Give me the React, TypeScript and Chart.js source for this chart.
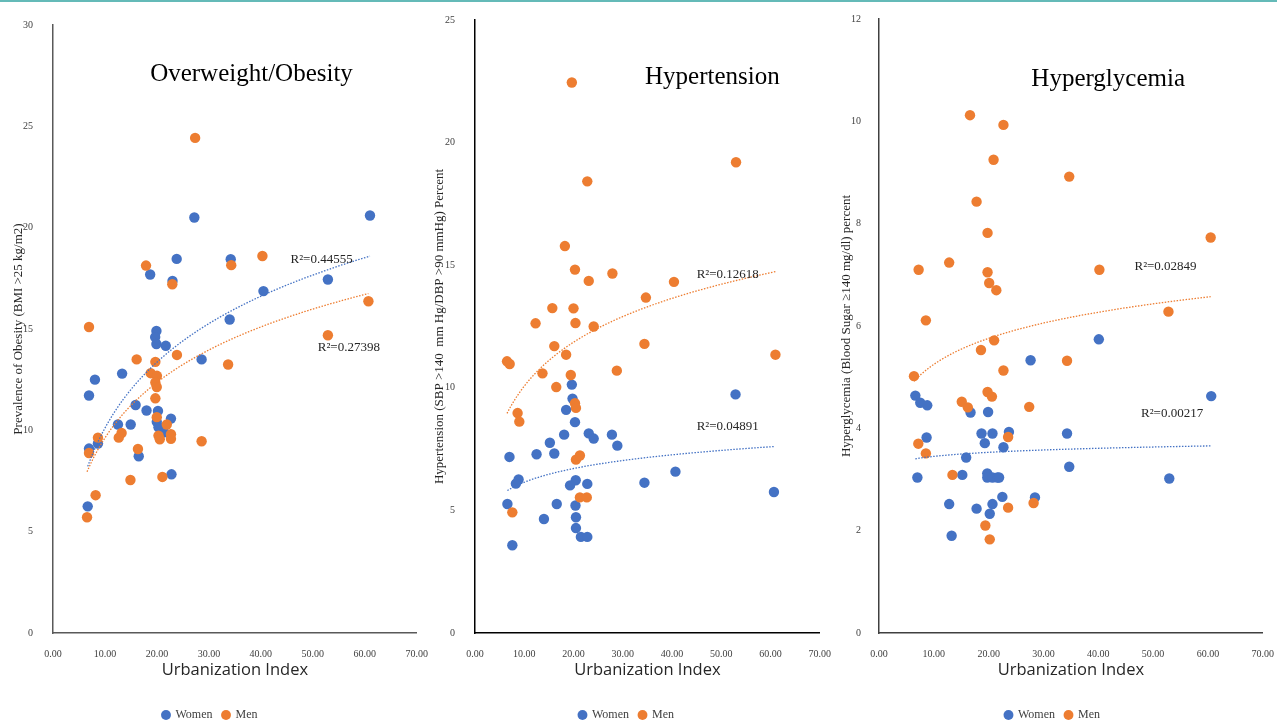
import React, { useEffect, useRef } from 'react';
import { Chart, registerables } from 'chart.js';

Chart.register(...registerables);

// ---------- shared labels ----------
const SERIES_LABELS = ['Women', 'Men'];
const X_TITLE = 'Urbanization Index';
const X_MIN = 0;
const X_MAX = 70;
const X_STEP = 10;

// ---------- Panel 1: Overweight / Obesity ----------
const obesityWomenX = [27.2, 61.0, 23.8, 34.2, 18.7, 23.0, 52.9, 40.5, 19.9, 19.66, 19.9, 21.7, 34.0, 28.6, 13.3, 8.07, 6.93, 15.9, 18.0, 20.2, 22.7, 19.97, 12.5, 14.95, 20.3, 21.4, 8.65, 6.93, 16.5, 22.8, 6.68];
const obesityWomenY = [20.5, 20.6, 18.46, 18.44, 17.69, 17.37, 17.44, 16.87, 14.9, 14.6, 14.26, 14.17, 15.47, 13.5, 12.8, 12.5, 11.72, 11.25, 10.98, 10.96, 10.58, 10.42, 10.29, 10.29, 10.15, 9.9, 9.35, 9.1, 8.72, 7.83, 6.25];
const obesityMenX = [27.35, 34.3, 40.3, 17.9, 22.96, 60.7, 6.93, 52.9, 23.85, 33.7, 16.1, 19.7, 18.8, 20.0, 19.7, 19.97, 19.7, 19.97, 21.9, 13.2, 8.65, 12.65, 20.3, 20.55, 22.7, 22.7, 28.6, 6.93, 16.35, 14.9, 21.05, 8.2, 6.55];
const obesityMenY = [24.43, 18.15, 18.6, 18.13, 17.21, 16.37, 15.1, 14.69, 13.72, 13.25, 13.5, 13.38, 12.82, 12.69, 12.36, 12.14, 11.58, 10.65, 10.29, 9.87, 9.64, 9.64, 9.74, 9.56, 9.81, 9.58, 9.46, 8.88, 9.08, 7.55, 7.7, 6.8, 5.71];
const obesityR2 = ['R²=0.44555', 'R²=0.27398'];

// ---------- Panel 2: Hypertension ----------
const hyperWomenX = [19.66, 52.9, 19.8, 18.5, 20.3, 18.1, 23.1, 24.1, 27.8, 28.9, 15.2, 12.5, 16.1, 7.0, 40.7, 20.45, 8.85, 8.3, 19.3, 22.8, 34.4, 60.7, 6.58, 16.6, 20.4, 14.0, 20.5, 20.5, 21.5, 22.8, 7.58];
const hyperWomenY = [10.13, 9.73, 9.56, 9.1, 8.6, 8.09, 8.14, 7.93, 8.09, 7.64, 7.76, 7.29, 7.32, 7.18, 6.58, 6.23, 6.26, 6.09, 6.02, 6.08, 6.13, 5.75, 5.26, 5.26, 5.2, 4.65, 4.72, 4.28, 3.92, 3.92, 3.58];
const hyperMenX = [19.66, 53.0, 22.8, 18.25, 20.3, 23.1, 27.9, 40.4, 34.7, 15.7, 20.0, 12.3, 20.4, 24.1, 34.4, 16.1, 18.5, 61.0, 6.5, 7.04, 13.7, 19.45, 28.8, 16.5, 20.3, 20.5, 8.65, 9.0, 20.5, 21.3, 21.3, 22.7, 7.58];
const hyperMenY = [22.45, 19.2, 18.42, 15.78, 14.82, 14.36, 14.66, 14.32, 13.68, 13.25, 13.24, 12.63, 12.64, 12.5, 11.79, 11.7, 11.35, 11.35, 11.08, 10.97, 10.59, 10.52, 10.7, 10.03, 9.37, 9.18, 8.97, 8.62, 7.07, 7.24, 5.53, 5.53, 4.92];
const hyperR2 = ['R²=0.04891', 'R²=0.12618'];

// ---------- Panel 3: Hyperglycemia ----------
const glycWomenX = [40.1, 27.65, 6.63, 60.6, 7.53, 8.8, 16.7, 19.9, 18.7, 20.7, 23.7, 34.3, 8.68, 19.3, 22.7, 15.9, 34.7, 7.0, 15.2, 19.75, 19.75, 20.7, 21.6, 21.9, 52.95, 22.5, 28.45, 12.8, 20.7, 17.8, 20.2, 13.25];
const glycWomenY = [5.74, 5.33, 4.64, 4.63, 4.5, 4.45, 4.31, 4.32, 3.9, 3.9, 3.93, 3.9, 3.82, 3.71, 3.63, 3.43, 3.25, 3.04, 3.09, 3.12, 3.04, 3.04, 3.04, 3.04, 3.02, 2.66, 2.65, 2.52, 2.52, 2.43, 2.33, 1.9];
const glycMenX = [16.6, 22.7, 20.9, 34.7, 17.8, 19.8, 60.5, 7.23, 12.8, 19.8, 40.2, 20.1, 21.4, 8.55, 52.8, 21.0, 18.6, 34.3, 22.7, 6.38, 19.8, 20.6, 15.1, 16.2, 27.4, 23.55, 7.17, 8.55, 13.4, 28.2, 23.55, 19.4, 20.2];
const glycMenY = [10.12, 9.93, 9.25, 8.92, 8.43, 7.82, 7.73, 7.1, 7.24, 7.05, 7.1, 6.84, 6.7, 6.11, 6.28, 5.72, 5.53, 5.32, 5.13, 5.02, 4.71, 4.62, 4.52, 4.41, 4.42, 3.83, 3.7, 3.51, 3.09, 2.54, 2.45, 2.1, 1.83];
const glycR2 = ['R²=0.00217', 'R²=0.02849'];

// ---------- styling ----------
const WOMEN_COLOR = '#4472C4';
const MEN_COLOR = '#ED7D31';
const SERIF = '"Liberation Serif", "Times New Roman", serif';
const SANS = '"Open Sans", "Noto Sans", sans-serif';
const CANVAS_H = 731;
const LEGEND_H = 32;
const PLOT_BOTTOM = 633;

type Panel = {
  title: string;
  yTitle: string;
  yMax: number;
  yStep: number;
  women: [number[], number[]];
  men: [number[], number[]];
  r2: string[];
  canvasLeft: number;
  plotLeft: number;
  plotRight: number;
  plotTop: number;
  yTitlePad: number;
  yTickPad: number;
  axisColor: string;
  titlePos: [number, number];
  r2Pos: [number, number][];
};

const PANELS: Panel[] = [
  {
    title: 'Overweight/Obesity',
    yTitle: 'Prevalence of Obesity (BMI >25 kg/m2)',
    yMax: 30, yStep: 5,
    women: [obesityWomenX, obesityWomenY],
    men: [obesityMenX, obesityMenY],
    r2: obesityR2,
    canvasLeft: 0, plotLeft: 53, plotRight: 420, plotTop: 25,
    yTitlePad: 11, yTickPad: 12, axisColor: '#595959',
    titlePos: [38.2, 27.23],
    r2Pos: [[45.7, 18.25], [50.95, 13.9]],
  },
  {
    title: 'Hypertension',
    yTitle: 'Hypertension (SBP >140  mm Hg/DBP >90 mmHg) Percent',
    yMax: 25, yStep: 5,
    women: [hyperWomenX, hyperWomenY],
    men: [hyperMenX, hyperMenY],
    r2: hyperR2,
    canvasLeft: 430, plotLeft: 475, plotRight: 823, plotTop: 20,
    yTitlePad: 2, yTickPad: 12, axisColor: '#000000',
    titlePos: [48.2, 22.37],
    r2Pos: [[45.0, 8.27], [45.0, 14.49]],
  },
  {
    title: 'Hyperglycemia',
    yTitle: 'Hyperglycemia (Blood Sugar ≥140 mg/dl) percent',
    yMax: 12, yStep: 2,
    women: [glycWomenX, glycWomenY],
    men: [glycMenX, glycMenY],
    r2: glycR2,
    canvasLeft: 839, plotLeft: 879, plotRight: 1266, plotTop: 19,
    yTitlePad: 0, yTickPad: 10, axisColor: '#404040',
    titlePos: [41.8, 10.69],
    r2Pos: [[47.8, 4.22], [46.6, 7.09]],
  },
];

// logarithmic least-squares trend (y = a + b ln x), sampled between min and max x
function logTrend(xs: number[], ys: number[]) {
  const n = xs.length;
  let sl = 0, sy = 0, sll = 0, sly = 0;
  for (let i = 0; i < n; i++) {
    const l = Math.log(xs[i]);
    sl += l; sy += ys[i]; sll += l * l; sly += l * ys[i];
  }
  const b = (n * sly - sl * sy) / (n * sll - sl * sl);
  const a = (sy - b * sl) / n;
  const lo = Math.min(...xs);
  const hi = Math.max(...xs);
  const pts: { x: number; y: number }[] = [];
  const steps = 80;
  for (let i = 0; i <= steps; i++) {
    const x = lo + ((hi - lo) * i) / steps;
    pts.push({ x, y: a + b * Math.log(x) });
  }
  return pts;
}

const toPoints = (xs: number[], ys: number[]) => xs.map((x, i) => ({ x, y: ys[i] }));

const overlayPlugin = {
  id: 'overlay',
  afterDatasetsDraw(chart: any, _args: any, opts: any) {
    const { ctx } = chart;
    const xs = chart.scales.x;
    const ys = chart.scales.y;
    ctx.save();
    ctx.fillStyle = '#000000';
    ctx.font = `25px ${SERIF}`;
    ctx.textAlign = 'center';
    ctx.textBaseline = 'alphabetic';
    ctx.fillText(opts.title, xs.getPixelForValue(opts.titlePos[0]), ys.getPixelForValue(opts.titlePos[1]));
    ctx.font = `13px ${SERIF}`;
    ctx.fillStyle = '#262626';
    ctx.textAlign = 'left';
    opts.r2.forEach((t: string, i: number) => {
      ctx.fillText(t, xs.getPixelForValue(opts.r2Pos[i][0]), ys.getPixelForValue(opts.r2Pos[i][1]));
    });
    ctx.restore();
  },
};

function PanelChart({ p }: { p: Panel }) {
  const ref = useRef<HTMLCanvasElement | null>(null);
  const width = p.plotRight + 15 - p.canvasLeft;

  useEffect(() => {
    if (!ref.current) return;
    const chart = new Chart(ref.current, {
      type: 'scatter',
      data: {
        datasets: [
          {
            label: SERIES_LABELS[0],
            data: toPoints(p.women[0], p.women[1]),
            backgroundColor: WOMEN_COLOR,
            borderColor: WOMEN_COLOR,
            borderWidth: 0,
            pointRadius: 5.2,
            order: 2,
          },
          {
            label: SERIES_LABELS[1],
            data: toPoints(p.men[0], p.men[1]),
            backgroundColor: MEN_COLOR,
            borderColor: MEN_COLOR,
            borderWidth: 0,
            pointRadius: 5.2,
            order: 1,
          },
          {
            label: 'trend-women',
            data: logTrend(p.women[0], p.women[1]),
            showLine: true,
            borderColor: WOMEN_COLOR,
            borderWidth: 1.3,
            borderDash: [1.5, 1.5],
            pointRadius: 0,
            fill: false,
            order: 0,
          } as any,
          {
            label: 'trend-men',
            data: logTrend(p.men[0], p.men[1]),
            showLine: true,
            borderColor: MEN_COLOR,
            borderWidth: 1.3,
            borderDash: [1.5, 1.5],
            pointRadius: 0,
            fill: false,
            order: 0,
          } as any,
        ],
      },
      options: {
        responsive: false,
        maintainAspectRatio: false,
        animation: false,
        layout: { padding: { left: 0, right: 15, top: p.plotTop, bottom: 0 } },
        scales: {
          x: {
            type: 'linear',
            min: X_MIN,
            max: X_MAX,
            grid: { display: false },
            border: { display: true, color: p.axisColor, width: 1.5 },
            ticks: {
              stepSize: X_STEP,
              autoSkip: false,
              maxRotation: 0,
              padding: 7,
              color: '#404040',
              font: { family: SERIF, size: 10 },
              callback: (v: any) => Number(v).toFixed(2),
            },
            title: {
              display: true,
              text: X_TITLE,
              color: '#262626',
              font: { family: SANS, size: 16.5 },
              padding: { top: 0, bottom: 19 },
            },
            afterFit: (s: any) => { s.height = CANVAS_H - LEGEND_H - PLOT_BOTTOM; },
          },
          y: {
            type: 'linear',
            min: 0,
            max: p.yMax,
            grid: { display: false },
            border: { display: true, color: p.axisColor, width: 1.5 },
            ticks: {
              stepSize: p.yStep,
              padding: p.yTickPad,
              color: '#404040',
              font: { family: SERIF, size: 10 },
              callback: (v: any) => String(v),
            },
            title: {
              display: true,
              text: p.yTitle,
              color: '#262626',
              font: { family: SERIF, size: 13 },
              padding: { top: p.yTitlePad, bottom: 0 },
            },
            afterFit: (s: any) => { s.width = p.plotLeft - p.canvasLeft; },
          },
        },
        plugins: {
          legend: {
            display: true,
            position: 'bottom',
            labels: {
              usePointStyle: true,
              pointStyle: 'circle',
              boxWidth: 7,
              boxHeight: 7,
              padding: 10,
              color: '#404040',
              font: { family: SERIF, size: 12 },
              filter: (item: any) => item.datasetIndex < 2,
              sort: (a: any, b: any) => a.datasetIndex - b.datasetIndex,
            },
          },
          tooltip: { enabled: false },
          overlay: { title: p.title, titlePos: p.titlePos, r2: p.r2, r2Pos: p.r2Pos },
        } as any,
      },
      plugins: [overlayPlugin],
    });
    return () => chart.destroy();
  }, [p]);

  return (
    <canvas
      ref={ref}
      width={width}
      height={CANVAS_H}
      style={{ position: 'absolute', left: p.canvasLeft, top: 0, width, height: CANVAS_H }}
    />
  );
}

export default function App() {
  return (
    <div
      style={{
        position: 'fixed', left: 0, top: 0, width: 1277, height: 723,
        overflow: 'hidden', background: '#ffffff',
      }}
    >
      <div style={{ position: 'absolute', left: 0, top: 0, width: 1277, height: 2, background: '#64BAB8' }} />
      {PANELS.map((p) => (
        <PanelChart key={p.title} p={p} />
      ))}
    </div>
  );
}
